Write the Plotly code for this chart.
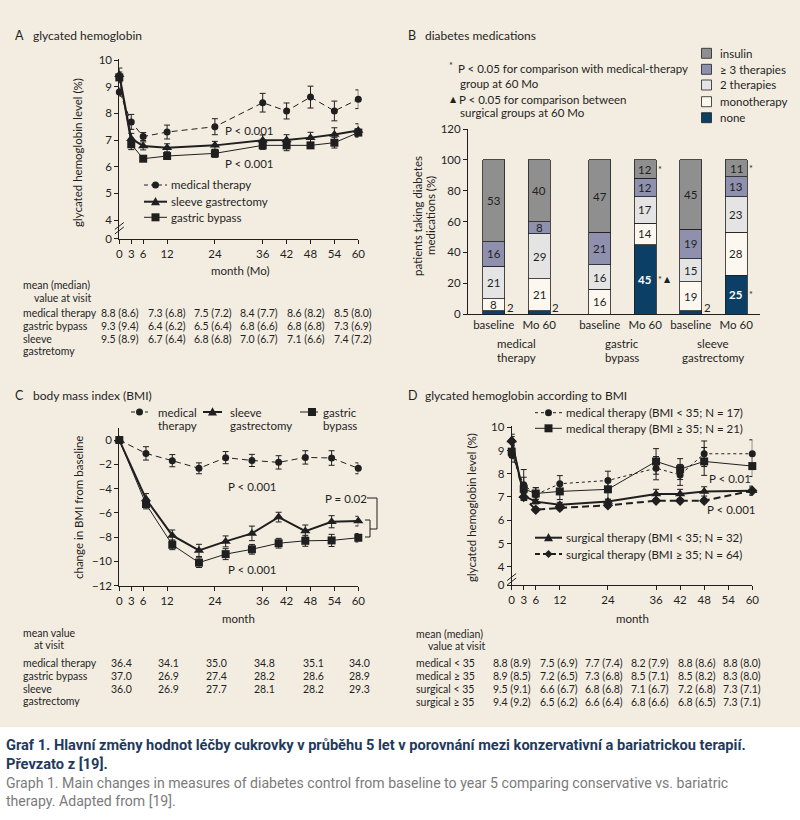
import plotly.graph_objects as go

W, H = 800, 820
FONT = "Lato, 'Noto Sans', 'DejaVu Sans', sans-serif"
CAP_FONT = "Roboto, 'Liberation Sans', sans-serif"
INK = "#1f1f1f"
BEIGE = "#f3ede1"

# ---------------- data: panel A (glycated hemoglobin) ----------------
months_ticks = [0, 3, 6, 12, 24, 36, 42, 48, 54, 60]
months_a = [0, 3, 6, 12, 24, 36, 42, 48, 54, 60]
a_medical = [8.8, 7.68, 7.13, 7.3, 7.5, 8.4, 8.09, 8.61, 8.09, 8.53]
a_medical_err = [0.15, 0.28, 0.15, 0.26, 0.3, 0.35, 0.3, 0.41, 0.37, 0.35]
a_sleeve = [9.45, 7.05, 6.78, 6.71, 6.8, 6.99, 7.0, 7.09, 7.21, 7.36]
a_sleeve_err = [0.25, 0.2, 0.15, 0.15, 0.15, 0.2, 0.2, 0.2, 0.25, 0.25]
a_bypass = [9.35, 6.84, 6.3, 6.4, 6.5, 6.8, 6.8, 6.8, 6.9, 7.28]
a_bypass_err = [0.2, 0.2, 0.1, 0.1, 0.15, 0.15, 0.2, 0.1, 0.2, 0.15]

a_tab_labels = ["medical therapy", "gastric bypass", "sleeve\ngastretomy"]
a_tab_mean = [[8.8, 7.3, 7.5, 8.4, 8.6, 8.5],
              [9.3, 6.4, 6.5, 6.8, 6.8, 7.3],
              [9.5, 6.7, 6.8, 7.0, 7.1, 7.4]]
a_tab_median = [[8.6, 6.8, 7.2, 7.7, 8.2, 8.0],
                [9.4, 6.2, 6.4, 6.6, 6.8, 6.9],
                [8.9, 6.4, 6.8, 6.7, 6.6, 7.2]]

# ---------------- data: panel B (diabetes medications) ----------------
b_bars = ["baseline", "Mo 60", "baseline", "Mo 60", "baseline", "Mo 60"]
b_groups = ["medical\ntherapy", "gastric\nbypass", "sleeve\ngastrectomy"]
b_categories = ["none", "monotherapy", "2 therapies", "≥ 3 therapies", "insulin"]
b_none = [2, 2, 0, 45, 2, 25]
b_mono = [8, 21, 16, 14, 19, 28]
b_two = [21, 29, 16, 17, 15, 23]
b_three = [16, 8, 21, 12, 19, 13]
b_insulin = [53, 40, 47, 12, 45, 11]
# significance marks: (bar index, category, mark)
b_marks = [(3, "insulin", "*"), (3, "none", "*"), (3, "none", "▲"),
           (5, "insulin", "*"), (5, "none", "*")]

# ---------------- data: panel C (BMI change) ----------------
months_c = [0, 6.7, 13.3, 20, 26.7, 33.3, 40, 46.7, 53.3, 60]
c_medical = [0, -1.1, -1.7, -2.33, -1.45, -1.68, -1.84, -1.43, -1.48, -2.33]
c_medical_err = [0, 0.55, 0.5, 0.45, 0.5, 0.5, 0.55, 0.55, 0.6, 0.45]
c_sleeve = [0, -4.86, -7.86, -9.09, -8.35, -7.69, -6.35, -7.5, -6.73, -6.68]
c_sleeve_err = [0, 0.45, 0.45, 0.5, 0.45, 0.6, 0.4, 0.5, 0.5, 0.4]
c_bypass = [0, -5.27, -8.63, -10.1, -9.4, -9.0, -8.5, -8.3, -8.27, -8.05]
c_bypass_err = [0, 0.4, 0.4, 0.4, 0.45, 0.4, 0.4, 0.45, 0.5, 0.35]

c_tab_labels = ["medical therapy", "gastric bypass", "sleeve\ngastrectomy"]
c_tab_mean = [[36.4, 34.1, 35.0, 34.8, 35.1, 34.0],
              [37.0, 26.9, 27.4, 28.2, 28.6, 28.9],
              [36.0, 26.9, 27.7, 28.1, 28.2, 29.3]]

# ---------------- data: panel D (HbA1c by BMI) ----------------
months_d = [0, 3, 6, 12, 24, 36, 42, 48, 60]
d_med_lo = [8.8, 7.53, 7.1, 7.57, 7.71, 8.24, 7.95, 8.86, 8.86]
d_med_lo_err = [0.3, 0.65, 0.3, 0.35, 0.4, 0.5, 0.45, 0.55, 0.6]
d_med_hi = [8.95, 7.35, 7.15, 7.24, 7.33, 8.53, 8.2, 8.53, 8.33]
d_med_hi_err = [0.3, 0.5, 0.25, 0.35, 0.45, 0.55, 0.45, 0.6, 0.45]
d_sur_lo = [9.45, 7.05, 6.8, 6.67, 6.81, 7.13, 7.13, 7.24, 7.27]
d_sur_lo_err = [0.25, 0.15, 0.1, 0.1, 0.1, 0.2, 0.2, 0.2, 0.2]
d_sur_hi = [9.4, 7.0, 6.45, 6.53, 6.64, 6.84, 6.84, 6.84, 7.27]
d_sur_hi_err = [0.2, 0.15, 0.08, 0.08, 0.08, 0.08, 0.08, 0.08, 0.15]

d_tab_labels = ["medical &lt; 35", "medical ≥ 35", "surgical &lt; 35", "surgical ≥ 35"]
d_tab_mean = [[8.8, 7.5, 7.7, 8.2, 8.8, 8.8],
              [8.9, 7.2, 7.3, 8.5, 8.5, 8.3],
              [9.5, 6.6, 6.8, 7.1, 7.2, 7.3],
              [9.4, 6.5, 6.6, 6.8, 6.8, 7.3]]
d_tab_median = [[8.9, 6.9, 7.4, 7.9, 8.6, 8.0],
                [8.5, 6.5, 6.8, 7.1, 8.2, 8.0],
                [9.1, 6.7, 6.8, 6.7, 6.8, 7.1],
                [9.2, 6.2, 6.4, 6.6, 6.5, 7.1]]

caption_cz = ["Graf 1. Hlavní změny hodnot léčby cukrovky v průběhu 5 let v porovnání mezi konzervativní a bariatrickou terapií.",
              "Převzato z [19]."]
caption_en = ["Graph 1. Main changes in measures of diabetes control from baseline to year 5 comparing conservative vs. bariatric",
              "therapy. Adapted from [19]."]

# ---------------- helpers ----------------
def X(px):
    return px / W


def Y(py):
    return 1 - py / H


shapes, annotations = [], []


def text(px, py, s, size=11, anchor="left", color=INK, angle=0, family=FONT, bold=False):
    annotations.append(dict(x=X(px), y=Y(py), xref="paper", yref="paper",
                            text=f"<b>{s}</b>" if bold else s, showarrow=False,
                            xanchor=anchor, yanchor="middle", textangle=angle,
                            font=dict(family=family, size=size, color=color), borderpad=0))


def seg(x0, y0, x1, y1, width=1, dash="solid", color=INK):
    shapes.append(dict(type="line", xref="paper", yref="paper", x0=X(x0), y0=Y(y0),
                       x1=X(x1), y1=Y(y1), line=dict(color=color, width=width, dash=dash)))


def glyph(cx, cy, sym, size):
    r = size / 2
    base = dict(xref="paper", yref="paper", fillcolor=INK, line=dict(width=0))
    if sym == "circle":
        shapes.append(dict(type="circle", x0=X(cx - r), x1=X(cx + r), y0=Y(cy + r), y1=Y(cy - r), **base))
    elif sym == "square":
        shapes.append(dict(type="rect", x0=X(cx - r), x1=X(cx + r), y0=Y(cy + r), y1=Y(cy - r), **base))
    elif sym == "triangle":
        p = f"M {X(cx)} {Y(cy - r * 1.05)} L {X(cx - r)} {Y(cy + r * 0.8)} L {X(cx + r)} {Y(cy + r * 0.8)} Z"
        shapes.append(dict(type="path", path=p, **base))
    elif sym == "diamond":
        p = f"M {X(cx)} {Y(cy - r)} L {X(cx + r)} {Y(cy)} L {X(cx)} {Y(cy + r)} L {X(cx - r)} {Y(cy)} Z"
        shapes.append(dict(type="path", path=p, **base))


def key(x0, x1, y, sym, size, width=1, dash="solid", cx=None):
    seg(x0, y, x1, y, width=width, dash=dash)
    glyph((x0 + x1) / 2 if cx is None else cx, y, sym, size)


def series(x, y, err, xa, ya, dash, width, symbol, size, cap=3):
    return go.Scatter(x=x, y=y, xaxis=xa, yaxis=ya, mode="lines+markers",
                      line=dict(color=INK, width=width, dash=dash),
                      marker=dict(symbol=symbol, size=size, color=INK, line=dict(width=0)),
                      error_y=dict(type="data", array=err, color=INK, thickness=1, width=cap),
                      cliponaxis=False, showlegend=False, hoverinfo="skip")


TAB = 10.5


def table(label_x, header, header_x2, row_ys, col_xs, labels, cells):
    text(label_x, header[0][1], header[0][0], size=TAB)
    text(header_x2, header[1][1], header[1][0], size=TAB)
    for lab, ry, rowcells in zip(labels, row_ys, cells):
        for k, line in enumerate(lab.split("\n")):
            text(label_x, ry + 12.3 * k, line, size=TAB)
        for cx, c in zip(col_xs, rowcells):
            text(cx, ry, c, size=TAB)


# ---------------- figure ----------------
fig = go.Figure()

# beige panel background
shapes.append(dict(type="rect", xref="paper", yref="paper", x0=0, x1=1, y0=Y(727), y1=1,
                   fillcolor=BEIGE, line=dict(width=0), layer="below"))

# Panel A
fig.add_trace(series(months_a, a_medical, a_medical_err, "x", "y", "6px,4px", 1, "circle", 7))
fig.add_trace(series(months_a, a_bypass, a_bypass_err, "x", "y", "solid", 1, "square", 8))
fig.add_trace(series(months_a, a_sleeve, a_sleeve_err, "x", "y", "solid", 2, "triangle-up", 9))

# Panel B (stacked bars)
bar_pos = [i + (0.33 if i >= 2 else 0) for i in range(len(b_bars))]
b_series = [b_none, b_mono, b_two, b_three, b_insulin]
b_colors = ["#0c3f66", "#fcf8ef", "#e4e4e4", "#8e90ae", "#8f8f8f"]
for name, vals, col in zip(b_categories, b_series, b_colors):
    fig.add_trace(go.Bar(x=bar_pos, y=vals, name=name, xaxis="x2", yaxis="y2", width=0.48,
                         marker=dict(color=col, line=dict(color=INK, width=0.8)),
                         showlegend=False, hoverinfo="skip"))

# Panel C
fig.add_trace(series(months_c, c_medical, c_medical_err, "x3", "y3", "6px,4px", 1, "circle", 7))
fig.add_trace(series(months_c, c_bypass, c_bypass_err, "x3", "y3", "solid", 1, "square", 8))
fig.add_trace(series(months_c, c_sleeve, c_sleeve_err, "x3", "y3", "solid", 2, "triangle-up", 9))

# Panel D
fig.add_trace(series(months_d, d_med_lo, d_med_lo_err, "x4", "y4", "3px,3px", 1, "circle", 7))
fig.add_trace(series(months_d, d_med_hi, d_med_hi_err, "x4", "y4", "solid", 1, "square", 8))
fig.add_trace(series(months_d, d_sur_hi, d_sur_hi_err, "x4", "y4", "7px,4px", 2, "diamond", 8))
fig.add_trace(series(months_d, d_sur_lo, d_sur_lo_err, "x4", "y4", "solid", 2, "triangle-up", 9))

# ---- panel B segment labels & marks ----
cum = [0] * len(bar_pos)
mids = {}
for name, vals in zip(b_categories, b_series):
    for i, v in enumerate(vals):
        mid = cum[i] + v / 2
        mids[(i, name)] = mid
        if v >= 5:
            white = name == "none"
            annotations.append(dict(x=bar_pos[i], y=mid, xref="x2", yref="y2",
                                    text=f"<b>{v}</b>" if white else str(v), showarrow=False,
                                    font=dict(family=FONT, size=11.5, color="white" if white else INK)))
        elif v > 0:
            annotations.append(dict(x=bar_pos[i] + 0.36, y=v, xref="x2", yref="y2", yshift=3,
                                    text=str(v), showarrow=False,
                                    font=dict(family=FONT, size=11.5, color=INK)))
        cum[i] += v
for i, cat, mark in b_marks:
    off = 0.33 if mark == "*" else 0.5
    annotations.append(dict(x=bar_pos[i] + off, y=mids[(i, cat)], xref="x2", yref="y2",
                            text=mark, showarrow=False,
                            font=dict(family=FONT, size=9 if mark == "*" else 8, color=INK)))
for g, lab in enumerate(b_groups):
    gx = (bar_pos[2 * g] + bar_pos[2 * g + 1]) / 2
    for k, line in enumerate(lab.split("\n")):
        annotations.append(dict(x=gx, y=Y(344 + 14 * k), xref="x2", yref="paper", text=line,
                                showarrow=False, yanchor="middle",
                                font=dict(family=FONT, size=11.5, color=INK)))

# ---- titles ----
for (lx, tx, ty, letter, title) in [(14, 32, 35, "A", "glycated hemoglobin"),
                                    (407, 424, 35, "B", "diabetes medications"),
                                    (14, 32, 395, "C", "body mass index (BMI)"),
                                    (407, 424, 395, "D", "glycated hemoglobin according to BMI")]:
    text(lx, ty, letter, size=12.5)
    text(tx, ty, title, size=12)

# ---- axis titles ----
text(78, 153, "glycated hemoglobin level (%)", size=11.5, anchor="center", angle=-90)
text(240, 270, "month (Mo)", size=11.5, anchor="center")
text(417, 216, "patients taking diabetes", size=11.5, anchor="center", angle=-90)
text(430, 216, "medications (%)", size=11.5, anchor="center", angle=-90)
text(78, 508, "change in BMI from baseline", size=11.5, anchor="center", angle=-90)
text(238, 618, "month", size=11.5, anchor="center")
text(471, 508, "glycated hemoglobin level (%)", size=11.5, anchor="center", angle=-90)
text(632, 618, "month", size=11.5, anchor="center")

# ---- axis break marks ----
for (ax_x, by) in [(119.3, 226), (511.7, 577)]:
    seg(ax_x - 4.5, by + 3.5, ax_x + 4.5, by - 3.5)
    seg(ax_x - 4.5, by + 8, ax_x + 4.5, by + 1)

# ---- legends ----
key(144, 167, 185, "circle", 7, dash="4px,3px")
text(170, 185, "medical therapy", size=11.5)
key(144, 167, 201.7, "triangle", 9, width=2)
text(170, 201.7, "sleeve gastrectomy", size=11.5)
key(144, 167, 217.3, "square", 8)
text(170, 217.3, "gastric bypass", size=11.5)

for (ly, name, col) in zip([53.3, 69.3, 85, 101.7, 117.7], b_categories[::-1], b_colors[::-1]):
    shapes.append(dict(type="rect", xref="paper", yref="paper", x0=X(701.5), x1=X(711.5),
                       y0=Y(ly + 5), y1=Y(ly - 5), fillcolor=col, line=dict(color=INK, width=0.8)))
    text(719, ly, name, size=11.5)

key(131, 148, 412, "circle", 7, dash="4px,3px")
text(157, 412, "medical", size=11.5)
text(157, 425, "therapy", size=11.5)
key(203, 222, 412, "triangle", 9, width=2)
text(229, 412, "sleeve", size=11.5)
text(229, 425, "gastrectomy", size=11.5)
key(300, 318, 412, "square", 8, cx=312)
text(322, 412, "gastric", size=11.5)
text(322, 425, "bypass", size=11.5)

key(535, 562, 412.7, "circle", 7, dash="3px,3px")
text(565, 412.7, "medical therapy (BMI &lt; 35; N = 17)", size=11.5)
key(535, 562, 428.3, "square", 8)
text(565, 428.3, "medical therapy (BMI ≥ 35; N = 21)", size=11.5)
key(535, 562, 537.7, "triangle", 9, width=2)
text(565, 537.7, "surgical therapy (BMI &lt; 35; N = 32)", size=11.5)
key(535, 562, 554, "diamond", 8, width=2, dash="5px,3px")
text(565, 554, "surgical therapy (BMI ≥ 35; N = 64)", size=11.5)

# ---- B notes ----
text(448, 66, "*", size=9)
text(457, 68.5, "P &lt; 0.05 for comparison with medical-therapy", size=11.5)
text(459, 84, "group at 60 Mo", size=11.5)
text(449, 99, "▲", size=8)
text(458, 99, "P &lt; 0.05 for comparison between", size=11.5)
text(459, 112, "surgical groups at 60 Mo", size=11.5)

# ---- P values ----
text(249, 130, "P &lt; 0.001", size=11.5, anchor="center")
text(249, 163.3, "P &lt; 0.001", size=11.5, anchor="center")
text(252, 486.7, "P &lt; 0.001", size=11.5, anchor="center")
text(252, 569.3, "P &lt; 0.001", size=11.5, anchor="center")
text(346, 498, "P = 0.02", size=11.5, anchor="center")
seg(367, 498, 377, 498)
seg(377, 498, 377, 529)
seg(377, 529, 370, 529)
seg(370, 520, 370, 537)
seg(370, 520, 365, 520)
seg(370, 537, 365, 537)
text(730, 479, "P &lt; 0.01", size=11.5, anchor="center")
text(731, 509, "P &lt; 0.001", size=11.5, anchor="center")

# ---- tables ----
fmt_mm = lambda m, md: f"{m:.1f} ({md:.1f})"
table(22, [("mean (median)", 285), ("value at visit", 298)], 33, [313, 326, 339],
      [100, 147, 193, 239, 286, 333], a_tab_labels,
      [[fmt_mm(m, md) for m, md in zip(rm, rmd)] for rm, rmd in zip(a_tab_mean, a_tab_median)])
table(22, [("mean value", 633), ("at visit", 645)], 33, [663, 676, 689],
      [110, 157, 205, 253, 302, 348], c_tab_labels,
      [[f"{m:.1f}" for m in rm] for rm in c_tab_mean])
table(415, [("mean (median)", 634), ("value at visit", 646)], 427, [663, 676, 689, 702],
      [492, 539, 584, 630, 677, 722], d_tab_labels,
      [[fmt_mm(m, md) for m, md in zip(rm, rmd)] for rm, rmd in zip(d_tab_mean, d_tab_median)])

# ---- caption ----
text(5, 745, caption_cz[0], size=14.6, family=CAP_FONT, color="#1f3a5c", bold=True)
text(5, 764, caption_cz[1], size=14.6, family=CAP_FONT, color="#1f3a5c", bold=True)
text(5, 783, caption_en[0], size=14.1, family=CAP_FONT, color="#7b7b7b")
text(5, 801, caption_en[1], size=14.1, family=CAP_FONT, color="#7b7b7b")

# ---- axes ----
ax = dict(showline=True, linecolor=INK, linewidth=1, ticks="outside", ticklen=4, tickcolor=INK,
          tickwidth=1, showgrid=False, zeroline=False, fixedrange=True, automargin=False,
          tickfont=dict(family=FONT, size=11.5, color=INK))

fig.update_layout(
    width=W, height=H, margin=dict(l=0, r=0, t=0, b=0, pad=0, autoexpand=False),
    paper_bgcolor="white", plot_bgcolor="rgba(0,0,0,0)",
    showlegend=False, barmode="stack",
    xaxis=dict(domain=[X(119.3), X(358.3)], range=[0, 60], anchor="y", tickvals=months_ticks, **ax),
    yaxis=dict(domain=[Y(238.7), Y(58.7)], range=[3.3, 10.05], anchor="x",
               tickvals=[3.3, 4, 5, 6, 7, 8, 9, 10], ticktext=["0", "4", "5", "6", "7", "8", "9", "10"], **ax),
    xaxis2=dict(domain=[X(468), X(760)], range=[-0.565, 5.853], anchor="y2", tickvals=bar_pos,
                ticktext=b_bars, **{**ax, "ticks": ""}),
    yaxis2=dict(domain=[Y(314), Y(129)], range=[0, 120], anchor="x2", tickvals=[0, 20, 40, 60, 80, 100, 120], **ax),
    xaxis3=dict(domain=[X(119.3), X(358.3)], range=[0, 60], anchor="y3", tickvals=months_ticks, **ax),
    yaxis3=dict(domain=[Y(585.7), Y(427.9)], range=[-12, 1], anchor="x3",
                tickvals=[-12, -10, -8, -6, -4, -2, 0], **ax),
    xaxis4=dict(domain=[X(511.7), X(752.3)], range=[0, 60], anchor="y4", tickvals=months_ticks, **ax),
    yaxis4=dict(domain=[Y(585.3), Y(426.1)], range=[3.2, 10.05], anchor="x4",
                tickvals=[3.2, 4, 5, 6, 7, 8, 9, 10], ticktext=["0", "4", "5", "6", "7", "8", "9", "10"], **ax),
    shapes=shapes, annotations=annotations,
)

# the page's default 8px body margin would shift the 800x820 figure; remove it
fig.write_html("out.html", config={"displayModeBar": False},
               post_script="document.body.style.margin='0';")
